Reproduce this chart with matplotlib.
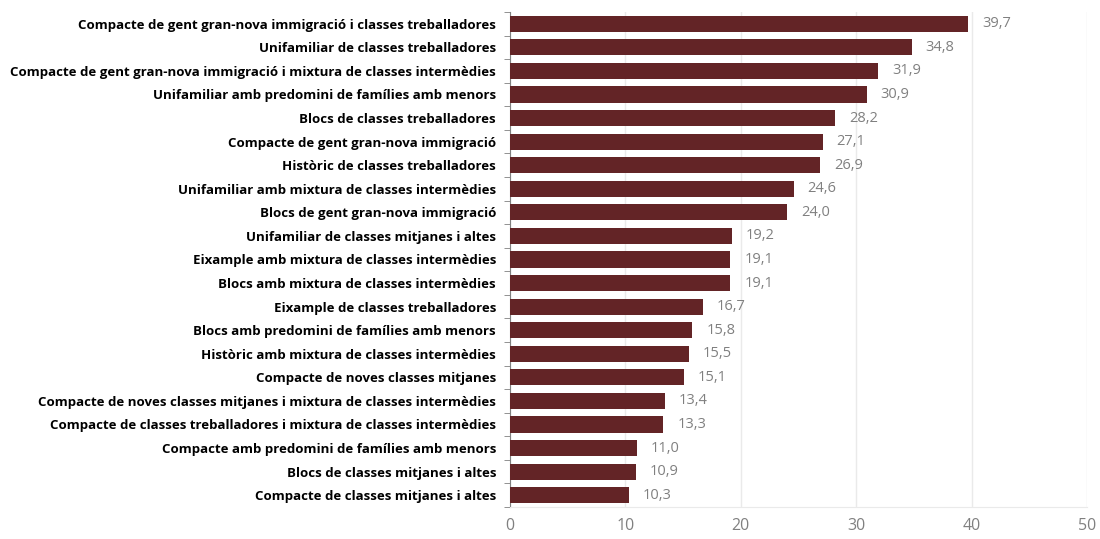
import matplotlib
matplotlib.use("Agg")
import matplotlib.pyplot as plt
import numpy as np

categories = [
    "Compacte de gent gran-nova immigració i classes treballadores",
    "Unifamiliar de classes treballadores",
    "Compacte de gent gran-nova immigració i mixtura de classes intermèdies",
    "Unifamiliar amb predomini de famílies amb menors",
    "Blocs de classes treballadores",
    "Compacte de gent gran-nova immigració",
    "Històric de classes treballadores",
    "Unifamiliar amb mixtura de classes intermèdies",
    "Blocs de gent gran-nova immigració",
    "Unifamiliar de classes mitjanes i altes",
    "Eixample amb mixtura de classes intermèdies",
    "Blocs amb mixtura de classes intermèdies",
    "Eixample de classes treballadores",
    "Blocs amb predomini de famílies amb menors",
    "Històric amb mixtura de classes intermèdies",
    "Compacte de noves classes mitjanes",
    "Compacte de noves classes mitjanes i mixtura de classes intermèdies",
    "Compacte de classes treballadores i mixtura de classes intermèdies",
    "Compacte amb predomini de famílies amb menors",
    "Blocs de classes mitjanes i altes",
    "Compacte de classes mitjanes i altes",
]
values = [39.7, 34.8, 31.9, 30.9, 28.2, 27.1, 26.9, 24.6, 24.0, 19.2, 19.1,
          19.1, 16.7, 15.8, 15.5, 15.1, 13.4, 13.3, 11.0, 10.9, 10.3]
xticks = [0, 10, 20, 30, 40, 50]

plt.rcParams['font.family'] = ['Open Sans', 'DejaVu Sans']

fig = plt.figure(figsize=(11, 5.39), dpi=100)
ax = fig.add_axes([510/1100, 1 - 507/539, (1087-510)/1100, (507-12)/539])

n = len(categories)
y = np.arange(n)
ax.barh(y, values, height=0.68, color="#632426", zorder=3)
ax.set_ylim(n - 0.5, -0.5)
ax.set_xlim(0, 50)
ax.set_xticks(xticks)
ax.set_xticklabels([str(t) for t in xticks], color="#808080", fontsize=11.5)
ax.tick_params(axis='x', length=0, pad=8)
ax.grid(axis='x', color="#EAEAEA", linewidth=1, zorder=0)

ax.set_yticks(y)
ax.set_yticklabels(categories, fontsize=9.5, fontweight='bold', color="#000000")
ax.tick_params(axis='y', which='major', length=0, pad=10)
ax.set_yticks(np.arange(-0.5, n, 1), minor=True)
ax.tick_params(axis='y', which='minor', length=4, color="#808080", direction='out')

for s in ['top', 'right']:
    ax.spines[s].set_visible(False)
ax.spines['left'].set_color("#808080")
ax.spines['bottom'].set_color("#EAEAEA")

for yi, v in zip(y, values):
    ax.text(v + 1.2, yi, f"{v:.1f}".replace('.', ','), va='center', ha='left',
            color="#808080", fontsize=10.5)

fig.savefig("out.png", dpi=100)
